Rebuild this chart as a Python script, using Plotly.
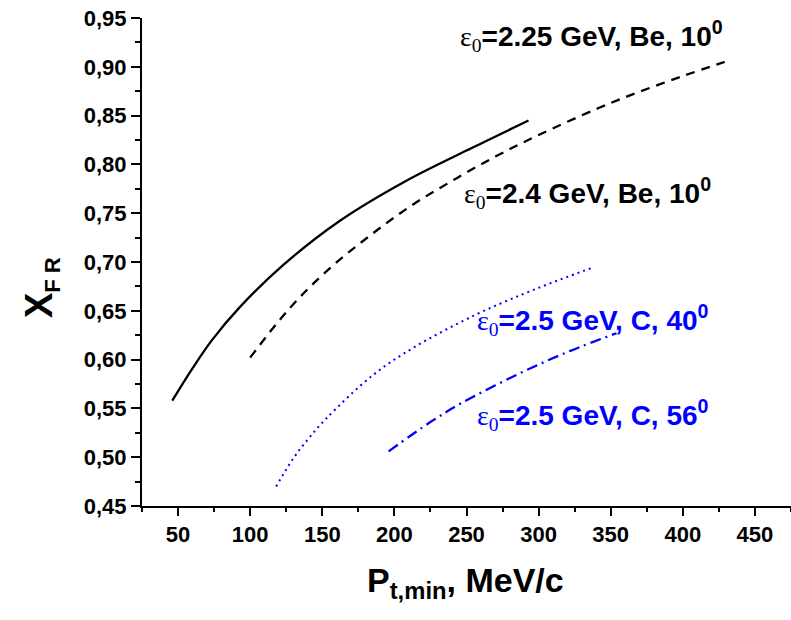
import plotly.graph_objects as go

# ---------------- data ----------------
solid_x = [46, 60, 73.5, 93, 123, 162, 208, 254, 293]
solid_y = [0.558, 0.591, 0.620, 0.654, 0.697, 0.742, 0.783, 0.817, 0.845]

dash_x = [100, 127, 154, 183, 212, 241, 270, 298.5, 342, 371, 401, 429]
dash_y = [0.602, 0.652, 0.692, 0.727, 0.758, 0.784, 0.808, 0.829, 0.858, 0.875, 0.891, 0.905]

dot_x = [118, 130, 141, 153, 185, 213, 255, 289, 315, 337]
dot_y = [0.470, 0.499, 0.520, 0.540, 0.584, 0.612, 0.645, 0.667, 0.682, 0.694]

dashdot_x = [196, 225, 246, 287, 322, 354]
dashdot_y = [0.506, 0.536, 0.555, 0.586, 0.609, 0.627]

x_tick_vals = [50, 100, 150, 200, 250, 300, 350, 400, 450]
x_tick_text = ["50", "100", "150", "200", "250", "300", "350", "400", "450"]
y_tick_vals = [0.45, 0.50, 0.55, 0.60, 0.65, 0.70, 0.75, 0.80, 0.85, 0.90, 0.95]
y_tick_text = ["0,45", "0,50", "0,55", "0,60", "0,65", "0,70", "0,75", "0,80", "0,85", "0,90", "0,95"]

labels = [
    "ε<sub>0</sub>=2.25 GeV, Be, 10<sup>0</sup>",
    "ε<sub>0</sub>=2.4 GeV, Be, 10<sup>0</sup>",
    "ε<sub>0</sub>=2.5 GeV, C, 40<sup>0</sup>",
    "ε<sub>0</sub>=2.5 GeV, C, 56<sup>0</sup>",
]

# ---------------- figure ----------------
SANS = "Liberation Sans, Arial, sans-serif"
SERIF = "Liberation Serif, Times New Roman, serif"

fig = go.Figure()
fig.add_trace(go.Scatter(x=solid_x, y=solid_y, mode="lines",
                         line=dict(color="black", width=2.3, shape="spline", smoothing=1.0)))
fig.add_trace(go.Scatter(x=dash_x, y=dash_y, mode="lines",
                         line=dict(color="black", width=2.3, dash="9px,7px", shape="spline", smoothing=1.0)))
fig.add_trace(go.Scatter(x=dot_x, y=dot_y, mode="lines",
                         line=dict(color="#0000FF", width=2, dash="2px,4px", shape="spline", smoothing=1.0)))
fig.add_trace(go.Scatter(x=dashdot_x, y=dashdot_y, mode="lines",
                         line=dict(color="#0000FF", width=2.3, dash="11px,5px,2px,5px", shape="spline", smoothing=1.0)))


def fmt(label):
    # epsilon and its subscript in a light serif face, the rest bold sans
    eps, rest = label.split("=", 1)
    eps = eps.replace("ε", "").replace("<sub>", "").replace("</sub>", "")
    return (f"<span style='font-family:{SERIF};font-weight:normal'>ε<sub>{eps}</sub></span>"
            f"<b>={rest}</b>")


ann_pos = [(0.487, 0.963, "black"), (0.4926, 0.641, "black"),
           (0.513, 0.381, "#0000FF"), (0.513, 0.1865, "#0000FF")]
for lab, (ax, ay, col) in zip(labels, ann_pos):
    fig.add_annotation(x=ax, y=ay, xref="paper", yref="paper", xanchor="left", yanchor="middle",
                       text=fmt(lab), showarrow=False,
                       font=dict(family=SANS, size=28, color=col))

# axis titles
fig.add_annotation(x=-0.193, y=0.447, xref="paper", yref="paper", textangle=-90,
                   text=("<b>X<sub><span style='font-size:22px'>F </span></sub>"
                         "<sub><span style='font-size:22px'>R</span></sub></b>"),
                   showarrow=False,
                   font=dict(family=SANS, size=38, color="black"))
fig.add_annotation(x=0.498, y=-0.205, xref="paper", yref="paper",
                   text="<b>P<sub>t,min</sub>, MeV/c</b>", showarrow=False,
                   font=dict(family=SANS, size=34, color="black"))

axis_common = dict(showgrid=False, zeroline=False, showline=True, linecolor="black", linewidth=2,
                   ticks="outside", tickcolor="black", tickwidth=2,
                   tickfont=dict(family=SANS, size=22, color="black", weight="bold"),
                   tickmode="array")

fig.update_xaxes(range=[25, 475], tickvals=x_tick_vals, ticktext=x_tick_text, ticklen=8,
                 minor=dict(ticks="outside", ticklen=4, dtick=25, tick0=0, tickcolor="black", tickwidth=2),
                 **axis_common)
fig.update_yaxes(range=[0.45, 0.95], tickvals=y_tick_vals, ticktext=y_tick_text, ticklen=9,
                 minor=dict(ticks="outside", ticklen=5, dtick=0.025, tick0=0, tickcolor="black", tickwidth=2),
                 **axis_common)

fig.update_layout(width=791, height=620, margin=dict(l=142, r=0, t=18, b=114),
                  plot_bgcolor="white", paper_bgcolor="white", showlegend=False)

fig.write_html("out.html")
